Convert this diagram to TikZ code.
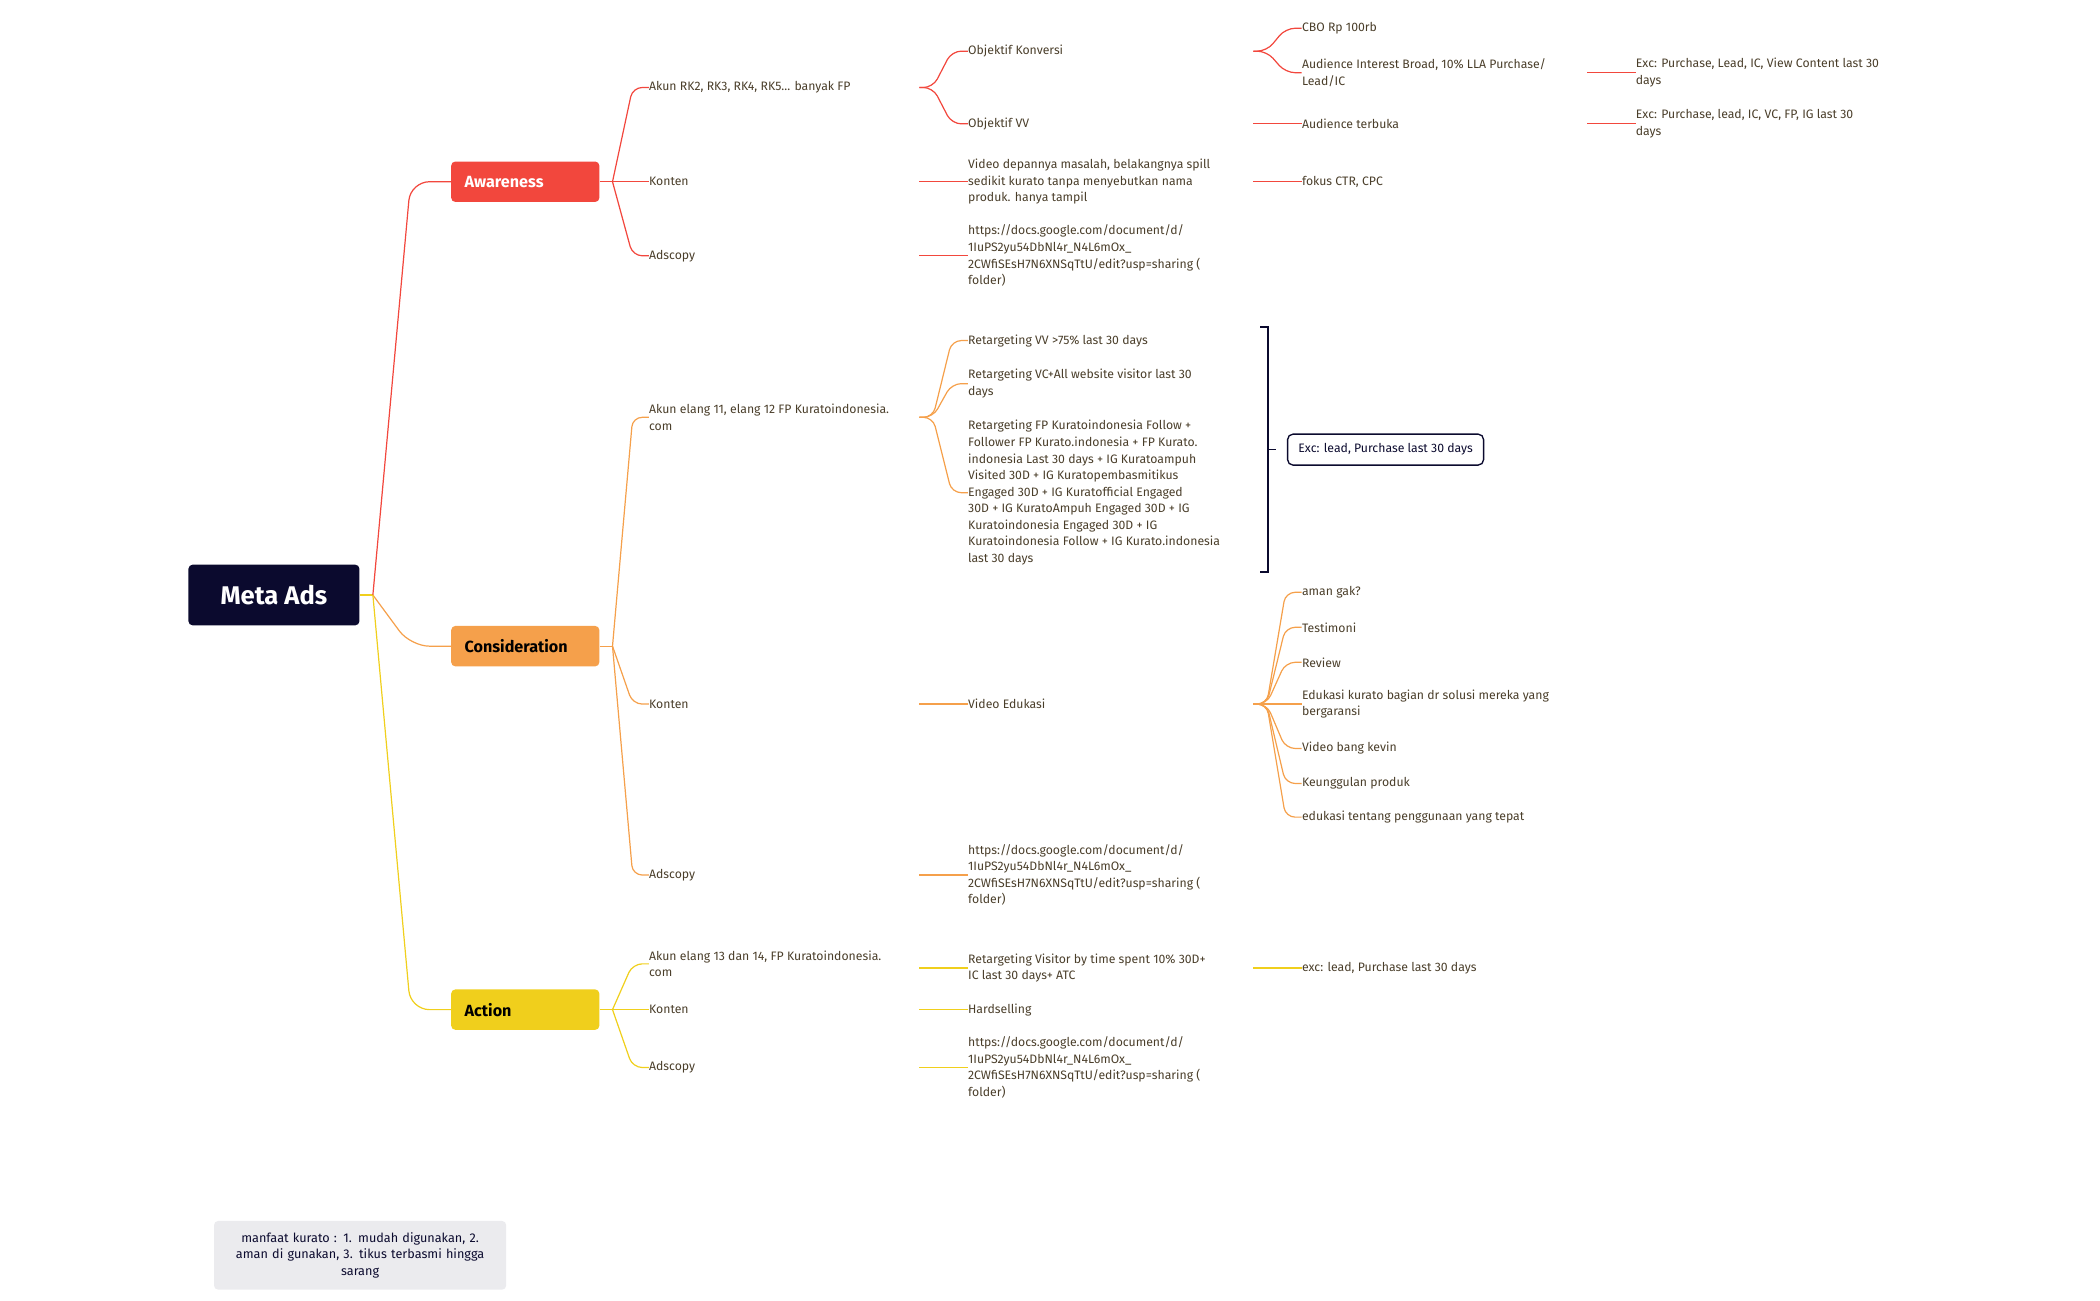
\documentclass[tikz,border=0pt]{standalone}
\usepackage{fontspec}
\setmainfont{Fira Sans}
\usetikzlibrary{positioning}

\definecolor{awaRed}{HTML}{F2473D}
\definecolor{conOrange}{HTML}{F5A04B}
\definecolor{actYellow}{HTML}{F0CF1C}
\definecolor{rootDark}{HTML}{0B0A2E}
\definecolor{leafText}{HTML}{4A3E2A}
\definecolor{noteGray}{HTML}{EBEBEE}

\tikzset{
  leaf/.style={anchor=west, inner sep=0pt, align=left, text=leafText,
    font=\fontsize{9.1}{12.3}\selectfont},
  stage/.style={rounded corners=3pt, minimum width=110pt, minimum height=30pt,
    anchor=west, font=\fontsize{12}{13}\selectfont\bfseries, text width=90pt, align=left},
  branch/.style={rounded corners=7pt, line width=0.9pt},
}

\begin{document}
\begin{tikzpicture}[x=1pt,y=-1pt]
\useasboundingbox (0,0) rectangle (1560,966);

% Pusat
\node[fill=rootDark, text=white, rounded corners=3pt, minimum width=127pt, minimum height=45pt,
  font=\fontsize{19}{22}\selectfont\bfseries] (meta) at (203.5,442) {Meta Ads};
\coordinate (fMeta) at (277,442);

% Tahap
\node[stage, fill=awaRed, text=white] (awa) at (335,135) {Awareness};
\node[stage, fill=conOrange] (con) at (335,480) {Consideration};
\node[stage, fill=actYellow] (act) at (335,750) {Action};

\draw[line width=0.9pt, actYellow] (meta.east) -- (fMeta);
\draw[branch, rounded corners=14pt, awaRed] (fMeta) -- ([xshift=-30pt]awa.west) -- (awa.west);
\draw[branch, rounded corners=14pt, conOrange] (fMeta) -- ([xshift=-30pt]con.west) -- (con.west);
\draw[branch, rounded corners=14pt, actYellow] (fMeta) -- ([xshift=-30pt]act.west) -- (act.west);

% ---------------- Awareness ----------------
\node[leaf] (akunRK) at (482,65) {Akun RK2, RK3, RK4, RK5... banyak FP};
\node[leaf] (kontenA) at (482,135) {Konten};
\node[leaf] (adsA) at (482,190) {Adscopy};
\coordinate (fAwa) at (455,135);
\draw[line width=0.9pt, awaRed] (awa.east) -- (fAwa);
\foreach \c in {akunRK,kontenA,adsA}
  \draw[branch, awaRed] (fAwa) -- ([xshift=-12pt]\c.west) -- (\c.west);

\node[leaf] (oKonv) at (719,38) {Objektif Konversi};
\node[leaf] (oVV) at (719,92) {Objektif VV};
\node[leaf] (videoA) at (719,135) {Video depannya masalah, belakangnya spill\\sedikit kurato tanpa menyebutkan nama\\produk. hanya tampil};
\node[leaf] (urlA) at (719,190) {https://docs.google.com/document/d/\\1IuPS2yu54DbNl4r\_N4L6mOx\_\\2CWfiSEsH7N6XNSqTtU/edit?usp=sharing (\\folder)};
\coordinate (sAkunRK) at (683,65);
\coordinate (sKontenA) at (683,135);
\coordinate (sAdsA) at (683,190);
\draw[branch, awaRed] (sAkunRK) -- ++(10,0) -- ([xshift=-12pt]oKonv.west) -- (oKonv.west);
\draw[branch, awaRed] (sAkunRK) -- ++(10,0) -- ([xshift=-12pt]oVV.west) -- (oVV.west);
\draw[branch, awaRed] (sKontenA) -- (videoA.west);
\draw[branch, awaRed] (sAdsA) -- (urlA.west);

\node[leaf] (cbo) at (967,21) {CBO Rp 100rb};
\node[leaf] (audInt) at (967,54) {Audience Interest Broad, 10\% LLA Purchase/\\Lead/IC};
\node[leaf] (audTer) at (967,92) {Audience terbuka};
\node[leaf] (fokus) at (967,135) {fokus CTR, CPC};
\coordinate (sKonv) at (931,38);
\coordinate (sVV) at (931,92);
\coordinate (sVideoA) at (931,135);
\draw[branch, awaRed] (sKonv) -- ++(10,0) -- ([xshift=-12pt]cbo.west) -- (cbo.west);
\draw[branch, awaRed] (sKonv) -- ++(10,0) -- ([xshift=-12pt]audInt.west) -- (audInt.west);
\draw[branch, awaRed] (sVV) -- (audTer.west);
\draw[branch, awaRed] (sVideoA) -- (fokus.west);

\node[leaf] (excA1) at (1215,54) {Exc: Purchase, Lead, IC, View Content last 30\\days};
\node[leaf] (excA2) at (1215,92) {Exc: Purchase, lead, IC, VC, FP, IG last 30\\days};
\coordinate (sAudInt) at (1179,54);
\coordinate (sAudTer) at (1179,92);
\draw[branch, awaRed] (sAudInt) -- (excA1.west);
\draw[branch, awaRed] (sAudTer) -- (excA2.west);

% ---------------- Consideration ----------------
\node[leaf] (akunC) at (482,310) {Akun elang 11, elang 12 FP Kuratoindonesia.\\com};
\node[leaf] (kontenC) at (482,523) {Konten};
\node[leaf] (adsC) at (482,650) {Adscopy};
\coordinate (fCon) at (455,480);
\draw[line width=0.9pt, conOrange] (con.east) -- (fCon);
\foreach \c in {akunC,kontenC,adsC}
  \draw[branch, conOrange] (fCon) -- ([xshift=-12pt]\c.west) -- (\c.west);

\node[leaf] (rVV) at (719,253) {Retargeting VV >75\% last 30 days};
\node[leaf] (rVC) at (719,285) {Retargeting VC+All website visitor last 30\\days};
\node[leaf] (rFP) at (719,366) {Retargeting FP Kuratoindonesia Follow +\\Follower FP Kurato.indonesia + FP Kurato.\\indonesia Last 30 days + IG Kuratoampuh\\Visited 30D + IG Kuratopembasmitikus\\Engaged 30D + IG Kuratofficial Engaged\\30D + IG KuratoAmpuh Engaged 30D + IG\\Kuratoindonesia Engaged 30D + IG\\Kuratoindonesia Follow + IG Kurato.indonesia\\last 30 days};
\node[leaf] (vEdu) at (719,523) {Video Edukasi};
\node[leaf] (urlC) at (719,650) {https://docs.google.com/document/d/\\1IuPS2yu54DbNl4r\_N4L6mOx\_\\2CWfiSEsH7N6XNSqTtU/edit?usp=sharing (\\folder)};
\coordinate (sAkunC) at (683,310);
\coordinate (sKontenC) at (683,523);
\coordinate (sAdsC) at (683,650);
\foreach \c in {rVV,rVC,rFP}
  \draw[branch, conOrange] (sAkunC) -- ++(10,0) -- ([xshift=-12pt]\c.west) -- (\c.west);
\draw[branch, conOrange] (sKontenC) -- (vEdu.west);
\draw[branch, conOrange] (sAdsC) -- (urlC.west);

% kurung
\draw[line width=1.3pt, rootDark] (936,243) -- (942,243) -- (942,425) -- (936,425);
\coordinate (brk) at (942,334);
\node[draw=rootDark, line width=1pt, rounded corners=4pt, anchor=west, inner xsep=8pt,
  minimum height=23pt, text=rootDark, font=\fontsize{9.1}{11}\selectfont] (excC) at (956,334)
  {Exc: lead, Purchase last 30 days};
\draw[line width=1.3pt, rootDark] (brk) -- ([xshift=-8pt]excC.west);

\node[leaf] (aman) at (967,440) {aman gak?};
\node[leaf] (testi) at (967,466) {Testimoni};
\node[leaf] (review) at (967,492) {Review};
\node[leaf] (eduK) at (967,523) {Edukasi kurato bagian dr solusi mereka yang\\bergaransi};
\node[leaf] (bang) at (967,556) {Video bang kevin};
\node[leaf] (keung) at (967,582) {Keunggulan produk};
\node[leaf] (eduT) at (967,607) {edukasi tentang penggunaan yang tepat};
\coordinate (sEdu) at (931,523);
\foreach \c in {aman,testi,review,eduK,bang,keung,eduT}
  \draw[branch, conOrange] (sEdu) -- ++(10,0) -- ([xshift=-12pt]\c.west) -- (\c.west);

% ---------------- Action ----------------
\node[leaf] (akunAc) at (482,716) {Akun elang 13 dan 14, FP Kuratoindonesia.\\com};
\node[leaf] (kontenAc) at (482,750) {Konten};
\node[leaf] (adsAc) at (482,793) {Adscopy};
\coordinate (fAct) at (455,750);
\draw[line width=0.9pt, actYellow] (act.east) -- (fAct);
\foreach \c in {akunAc,kontenAc,adsAc}
  \draw[branch, actYellow] (fAct) -- ([xshift=-12pt]\c.west) -- (\c.west);

\node[leaf] (retV) at (719,719) {Retargeting Visitor by time spent 10\% 30D+\\IC last 30 days+ ATC};
\node[leaf] (hard) at (719,750) {Hardselling};
\node[leaf] (urlAc) at (719,793) {https://docs.google.com/document/d/\\1IuPS2yu54DbNl4r\_N4L6mOx\_\\2CWfiSEsH7N6XNSqTtU/edit?usp=sharing (\\folder)};
\coordinate (sAkunAc) at (683,719);
\coordinate (sKontenAc) at (683,750);
\coordinate (sAdsAc) at (683,793);
\draw[branch, actYellow] (sAkunAc) -- (retV.west);
\draw[branch, actYellow] (sKontenAc) -- (hard.west);
\draw[branch, actYellow] (sAdsAc) -- (urlAc.west);

\node[leaf] (excAc) at (967,719) {exc: lead, Purchase last 30 days};
\coordinate (sRetV) at (931,719);
\draw[branch, actYellow] (sRetV) -- (excAc.west);

% Catatan
\node[fill=noteGray, rounded corners=3pt, minimum width=217pt, minimum height=51pt,
  text width=210pt, align=center, text=rootDark, font=\fontsize{9.4}{12.3}\selectfont] (note) at (267.5,932.5)
  {manfaat kurato : 1. mudah digunakan, 2.\\aman di gunakan, 3. tikus terbasmi hingga\\sarang};
\end{tikzpicture}
\end{document}
